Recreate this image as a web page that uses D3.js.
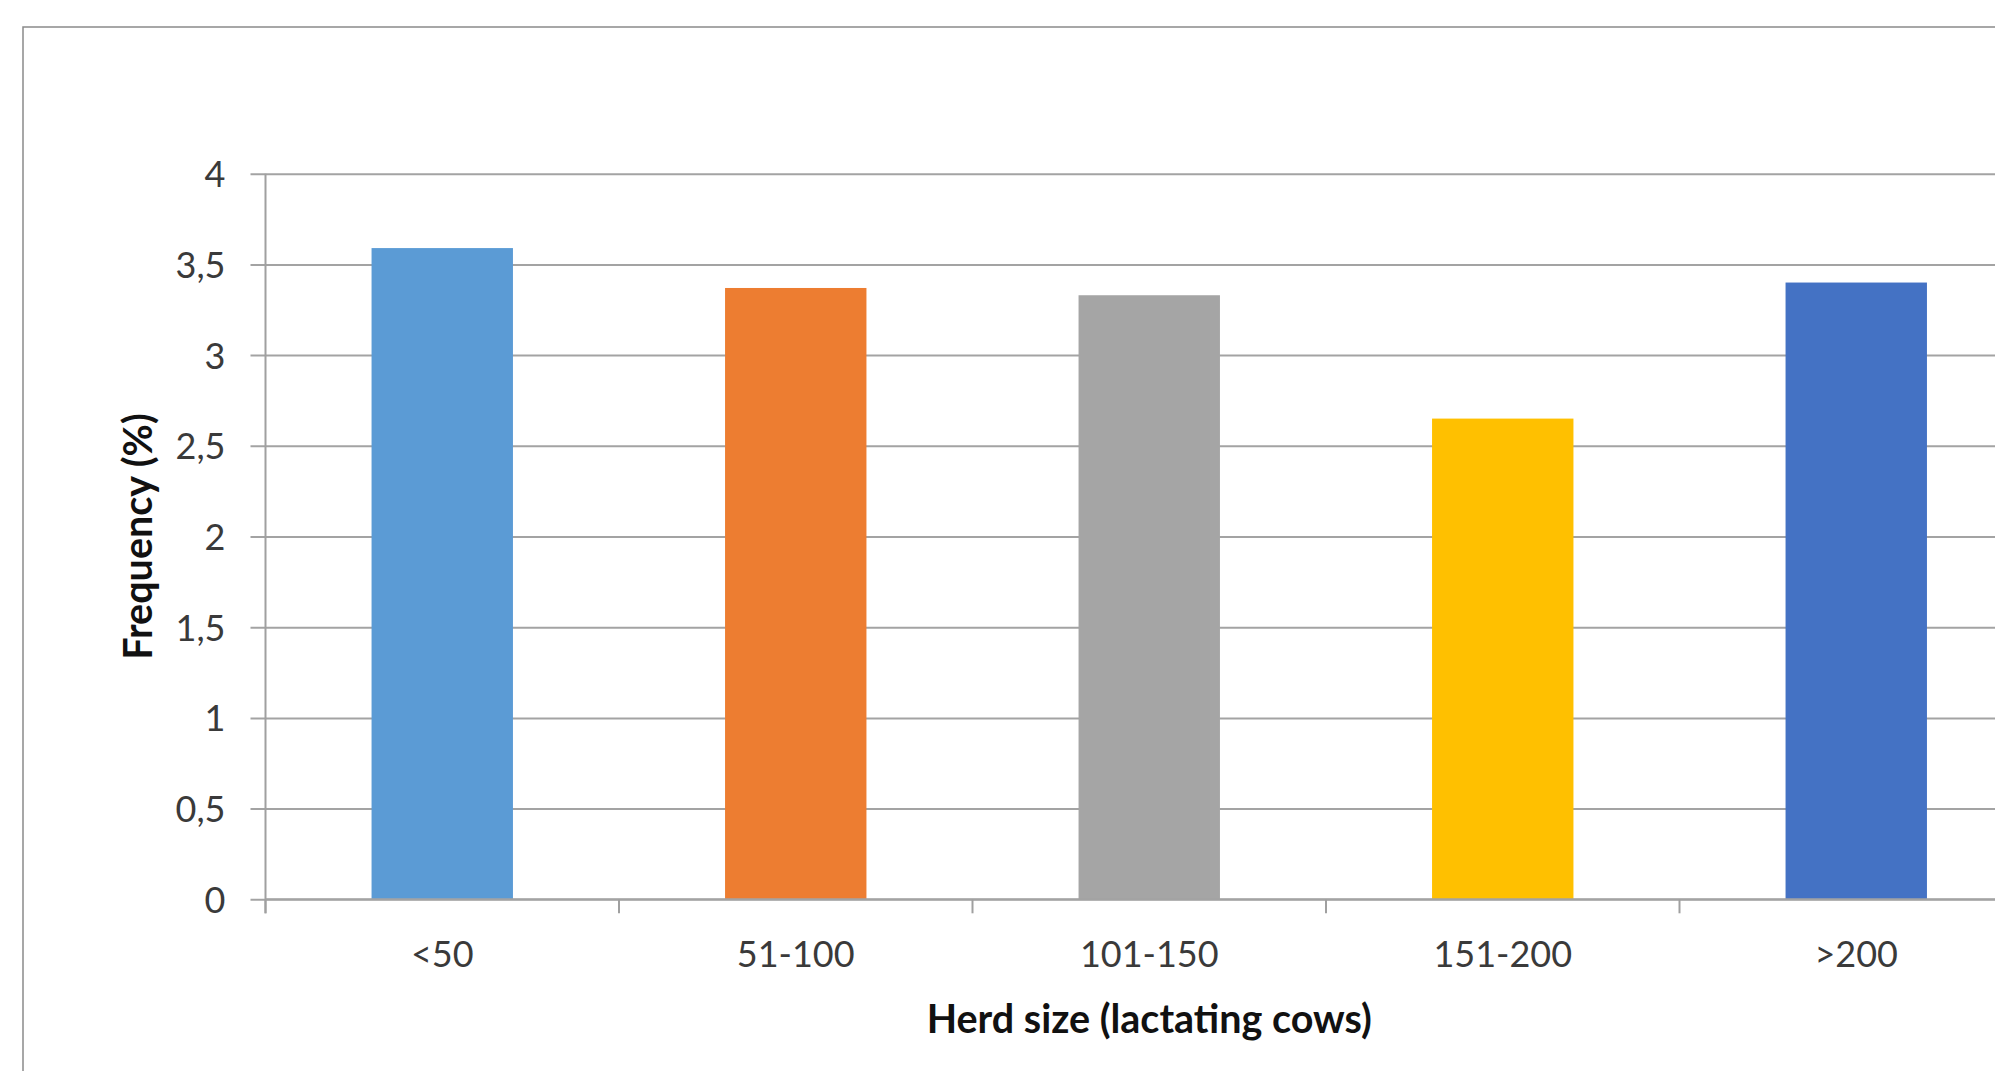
<!DOCTYPE html>
<html>
<head>
<meta charset="utf-8">
<script src="https://cdn.jsdelivr.net/npm/d3@7"></script>
<style>
  html, body { margin: 0; padding: 0; background: #fff; overflow: hidden; }
  svg { display: block; }
  text { font-family: Lato, "Open Sans", sans-serif; }
</style>
</head>
<body>
<svg id="chart" width="1995" height="1071"></svg>
<script>
// Herd size categories and frequency (%) per category
const categories = ["<50", "51-100", "101-150", "151-200", ">200"];
const frequency = [3.59, 3.37, 3.33, 2.65, 3.40];
const barColors = ["#5B9BD5", "#ED7D31", "#A5A5A5", "#FFC000", "#4472C4"];
const yTicks = [0, 0.5, 1, 1.5, 2, 2.5, 3, 3.5, 4];
const xTitle = "Herd size (lactating cows)";
const yTitle = "Frequency (%)";

const svg = d3.select("#chart");

// plot area (the chart continues past the right edge of the page)
const plot = { left: 265.5, top: 173.7, bottom: 899.3, step: 353.5 };
plot.right = plot.left + plot.step * categories.length;

const locale = d3.formatLocale({ decimal: ",", thousands: ".", grouping: [3], currency: ["", ""] });
const fmt = v => locale.format("~g")(v);

const x = d3.scaleBand()
  .domain(categories)
  .range([plot.left, plot.right])
  .paddingInner(0.6)
  .paddingOuter(0.3);

const y = d3.scaleLinear()
  .domain([0, 4])
  .range([plot.bottom, plot.top]);

// outer chart frame
svg.append("rect")
  .attr("x", 23).attr("y", 27)
  .attr("width", 2200).attr("height", 1200)
  .attr("fill", "none")
  .attr("stroke", "#8a8a8a")
  .attr("stroke-width", 1.5);

// horizontal gridlines with left tick marks
const yAxis = d3.axisLeft(y)
  .tickValues(yTicks)
  .tickFormat(fmt)
  .tickSize(-(plot.right - plot.left))
  .tickPadding(0);

const gy = svg.append("g")
  .attr("transform", `translate(${plot.left},0)`)
  .call(yAxis);
gy.select(".domain").remove();
gy.selectAll(".tick line")
  .attr("x1", -15)
  .attr("stroke", "#a3a3a3")
  .attr("stroke-width", 2);
gy.selectAll(".tick text")
  .attr("x", -40)
  .attr("dy", "0.36em")
  .attr("fill", "#3a3a3a")
  .style("font-size", "36px")
  .style("font-family", "Lato, sans-serif");

// bars
svg.append("g").selectAll("rect")
  .data(categories)
  .join("rect")
  .attr("x", d => x(d))
  .attr("width", x.bandwidth())
  .attr("y", (d, i) => y(frequency[i]))
  .attr("height", (d, i) => y(0) - y(frequency[i]))
  .attr("fill", (d, i) => barColors[i]);

// vertical axis line
svg.append("line")
  .attr("x1", plot.left).attr("x2", plot.left)
  .attr("y1", plot.top).attr("y2", plot.bottom + 14)
  .attr("stroke", "#a0a0a0")
  .attr("stroke-width", 2);

// category axis with ticks between categories
const boundaries = d3.range(categories.length + 1).map(i => x(categories[0]) - x.step() * x.paddingOuter() + i * x.step());
const gx = svg.append("g");
gx.append("line")
  .attr("x1", plot.left).attr("x2", plot.right)
  .attr("y1", plot.bottom).attr("y2", plot.bottom)
  .attr("stroke", "#a3a3a3")
  .attr("stroke-width", 2);
gx.selectAll("line.sep")
  .data(boundaries)
  .join("line")
  .attr("class", "sep")
  .attr("x1", d => d).attr("x2", d => d)
  .attr("y1", plot.bottom).attr("y2", plot.bottom + 14)
  .attr("stroke", "#a0a0a0")
  .attr("stroke-width", 2);
gx.selectAll("text")
  .data(categories)
  .join("text")
  .attr("x", d => x(d) + x.bandwidth() / 2)
  .attr("y", 967)
  .attr("text-anchor", "middle")
  .attr("fill", "#3a3a3a")
  .style("font-size", "36px")
  .text(d => d);

// axis titles
svg.append("text")
  .attr("x", (plot.left + plot.right) / 2)
  .attr("y", 1033)
  .attr("text-anchor", "middle")
  .attr("fill", "#111")
  .style("font-size", "39.5px")
  .style("font-weight", "bold")
  .text(xTitle);

svg.append("text")
  .attr("transform", `translate(152,${(plot.top + plot.bottom) / 2}) rotate(-90)`)
  .attr("text-anchor", "middle")
  .attr("fill", "#111")
  .style("font-size", "39.5px")
  .style("font-weight", "bold")
  .text(yTitle);
</script>
</body>
</html>
